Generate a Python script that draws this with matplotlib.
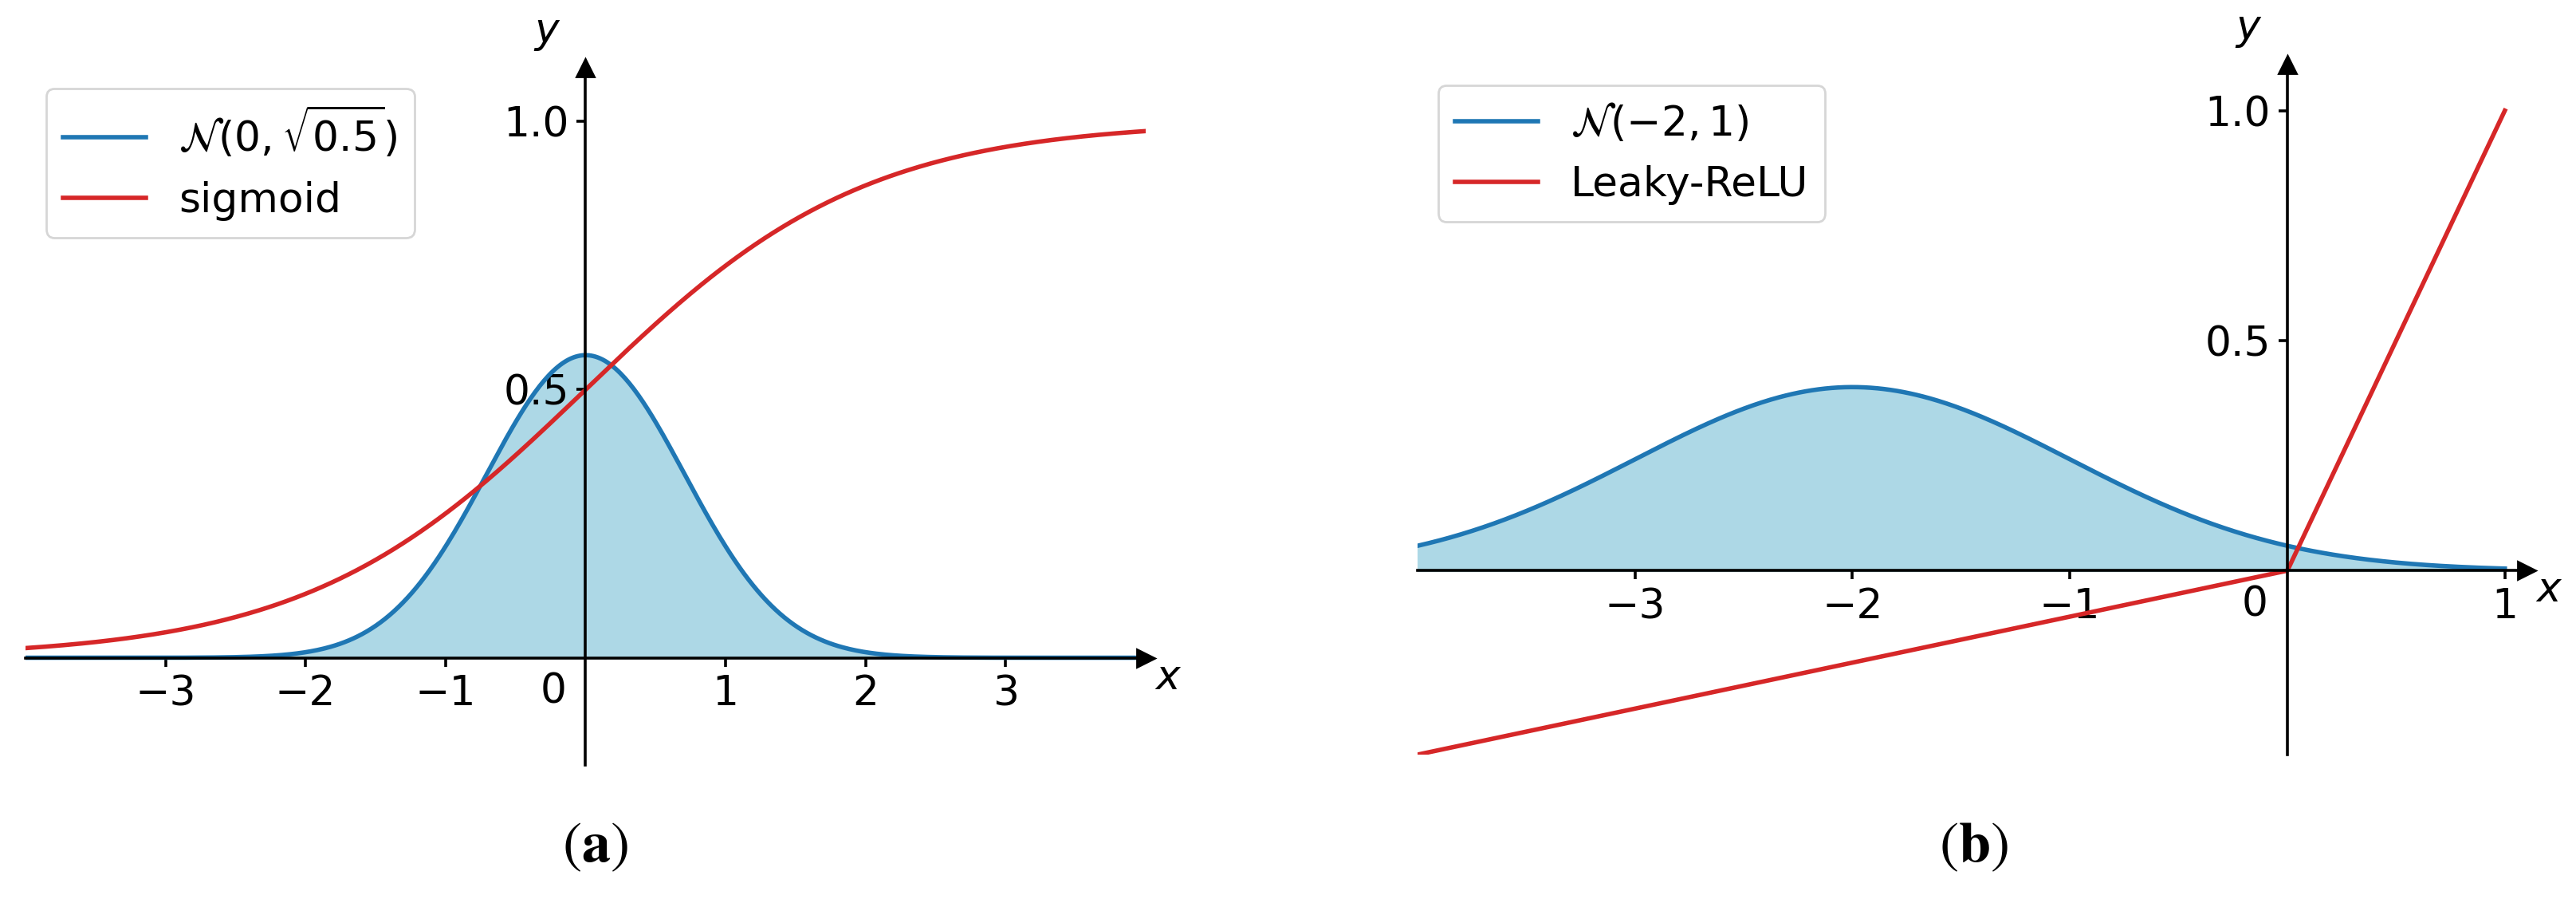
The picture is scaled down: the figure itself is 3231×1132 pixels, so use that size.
import numpy as np
import matplotlib.pyplot as plt

# values
norm_a = (0.0, np.sqrt(0.5))      # mean, std of the left gaussian
norm_b = (-2.0, 1.0)              # mean, std of the right gaussian
leaky_slope = 0.1                 # Leaky-ReLU slope for x < 0
xrange_a = (-4.0, 4.0)
xrange_b = (-4.0, 1.0)
xticks_a = [-3, -2, -1, 1, 2, 3]
xticks_b = [-3, -2, -1, 1]
yticks = [0.5, 1.0]
labels_a = [r'$\mathcal{N}(0,\sqrt{0.5})$', 'sigmoid']
labels_b = [r'$\mathcal{N}(-2,1)$', 'Leaky-ReLU']

W, H, DPI = 3231, 1132, 200
FS = 18.7
LW_AX = 1.3
LW = 2.0


def gauss(x, mu, sd):
    return np.exp(-0.5 * ((x - mu) / sd) ** 2) / (sd * np.sqrt(2 * np.pi))


def px_axes(l, t, r, b):
    return [l / W, 1 - b / H, (r - l) / W, (b - t) / H]


def style(ax, xlim, ylim, xticks):
    ax.set_xlim(xlim)
    ax.set_ylim(ylim)
    for s in ['top', 'right']:
        ax.spines[s].set_visible(False)
    for s in ['left', 'bottom']:
        ax.spines[s].set_position('zero')
        ax.spines[s].set_linewidth(LW_AX)
    ax.set_xticks(xticks)
    ax.set_yticks(yticks)
    ax.tick_params(labelsize=FS, length=4, width=LW_AX)
    # arrow heads at the end of the axes
    ax.plot(1, 0, '>k', transform=ax.get_yaxis_transform(), clip_on=False, ms=8)
    ax.plot(0, 1, '^k', transform=ax.get_xaxis_transform(), clip_on=False, ms=8)
    ax.annotate('$x$', xy=(1, 0), xycoords=ax.get_yaxis_transform(), xytext=(11, 0),
                textcoords='offset pixels', ha='left', va='top', fontsize=FS)
    ax.annotate('$y$', xy=(0, 1), xycoords=ax.get_xaxis_transform(), xytext=(-31, 19),
                textcoords='offset pixels', ha='right', va='bottom', fontsize=FS)
    ax.annotate('0', xy=(0, 0), xytext=(-24, -18), textcoords='offset pixels',
                ha='right', va='top', fontsize=FS)
    ax.legend(loc='upper left', fontsize=FS)


fig = plt.figure(figsize=(W / DPI, H / DPI), dpi=DPI)

# (a) gaussian + sigmoid
ax1 = fig.add_axes(px_axes(32, 85, 1437, 959))
xa = np.linspace(*xrange_a, 500)
ga = gauss(xa, *norm_a)
ax1.fill_between(xa, ga, color='lightblue')
ax1.plot(xa, ga, color='tab:blue', lw=LW, label=labels_a[0])
ax1.plot(xa, 1 / (1 + np.exp(-xa)), color='tab:red', lw=LW, label=labels_a[1])
style(ax1, xrange_a, (-0.2, 1.1), xticks_a)

# (b) gaussian + leaky relu
ax2 = fig.add_axes(px_axes(1778, 81, 3169, 946))
xb = np.linspace(*xrange_b, 500)
gb = gauss(xb, *norm_b)
ax2.fill_between(xb, gb, color='lightblue')
ax2.plot(xb, gb, color='tab:blue', lw=LW, label=labels_b[0])
ax2.plot(xb, np.where(xb > 0, xb, leaky_slope * xb), color='tab:red', lw=LW, label=labels_b[1])
style(ax2, (xrange_b[0], 1.1), (-0.4, 1.1), xticks_b)

# captions
fig.text(746 / W, 1 - 1061 / H, r'$(\mathbf{a})$', math_fontfamily='stix',
         ha='center', va='center', fontsize=26)
fig.text(2475 / W, 1 - 1061 / H, r'$(\mathbf{b})$', math_fontfamily='stix',
         ha='center', va='center', fontsize=26)

fig.savefig('out.png', dpi=DPI)
